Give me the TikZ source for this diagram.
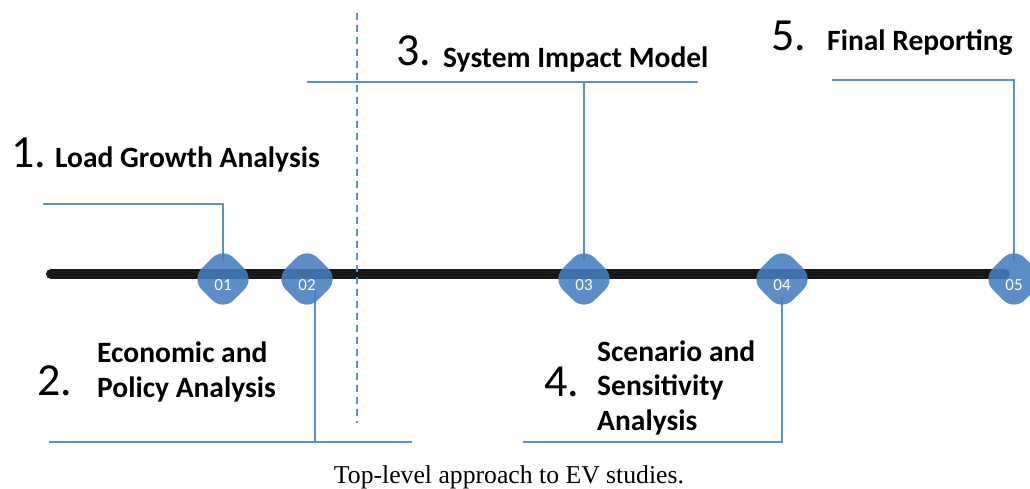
\documentclass[tikz,border=0pt]{standalone}
\usepackage{fontspec}
\setmainfont{Carlito}
\newfontfamily\capfont{Liberation Serif}
\usepackage{tikz}
\definecolor{linkblue}{RGB}{91,143,210}
\definecolor{markblue}{RGB}{70,125,190}
\tikzset{
    link/.style={draw=linkblue, line width=1.1pt},
    markfill/.style={fill=markblue, fill opacity=0.88, rounded corners=15pt},
    marklabel/.style={inner sep=0pt, text=white, font=\fontsize{17}{17}\selectfont},
    stepnum/.style={anchor=base west, inner sep=0pt, font=\fontsize{46}{46}\selectfont},
    steptitle/.style={anchor=base west, inner sep=0pt, align=left,
        font=\fontsize{29.5}{34.5}\selectfont\bfseries},
}

\begin{document}
\begin{tikzpicture}[x=1pt,y=-1pt]
\useasboundingbox (0,0) rectangle (1030,488);

\coordinate (t0) at (51,274);
\coordinate (t1) at (1005,274);
\coordinate (l1) at (43,204);
\coordinate (l2a) at (49,442);
\coordinate (l2b) at (412,442);
\coordinate (l2c) at (315,442);
\coordinate (l3a) at (307,82);
\coordinate (l3b) at (698,82);
\coordinate (l4) at (523,442);
\coordinate (l5) at (832,80);
\coordinate (d0) at (357,13);
\coordinate (d1) at (357,423);

% markers on the time line
\foreach \x/\n in {223/01,307/02,584/03,782/04,1014/05}
    \coordinate (p\n) at (\x,279);

\draw[line width=10pt, line cap=round, black!90] (t0) -- (t1);
\draw[link, dash pattern=on 7pt off 5pt] (d0) -- (d1);

\draw[link, shorten >=18pt] (l1) -| (p01);
\draw[link] (l2a) -- (l2b);
\draw[link, shorten >=12pt] (l2c) -- (l2c |- p02);
\draw[link] (l3a) -- (l3b);
\draw[link, shorten >=18pt] (p03 |- l3a) -- (p03);
\draw[link, shorten >=18pt] (l4) -| (p04);
\draw[link, shorten >=18pt] (l5) -| (p05);

\foreach \n in {01,02,03,04,05}{
    \fill[markfill, shift={(p\n)}, rotate=45] (-22.5,-22.5) rectangle (22.5,22.5);
    \node[marklabel] (m\n) at ([yshift=-6pt]p\n) {\n};
}

\node[stepnum] (n1) at (11,167) {1.};
\node[steptitle] (s1) at (55,167) {Load Growth Analysis};
\node[stepnum] (n2) at (37,395) {2.};
\node[steptitle] (s2) at (97,397) {Economic and\\Policy Analysis};
\node[stepnum] (n3) at (396,65) {3.};
\node[steptitle] (s3) at (443,67) {System Impact Model};
\node[stepnum] (n4) at (544,396) {4.};
\node[steptitle] (s4) at (597,430) {Scenario and\\Sensitivity\\Analysis};
\node[stepnum] (n5) at (771,50) {5.};
\node[steptitle] (s5) at (827,50) {Final Reporting};

\node[anchor=base, inner sep=0pt, font=\capfont\fontsize{25.7}{26}\selectfont] (cap) at (509,483)
    {Top-level approach to EV studies.};
\end{tikzpicture}
\end{document}
